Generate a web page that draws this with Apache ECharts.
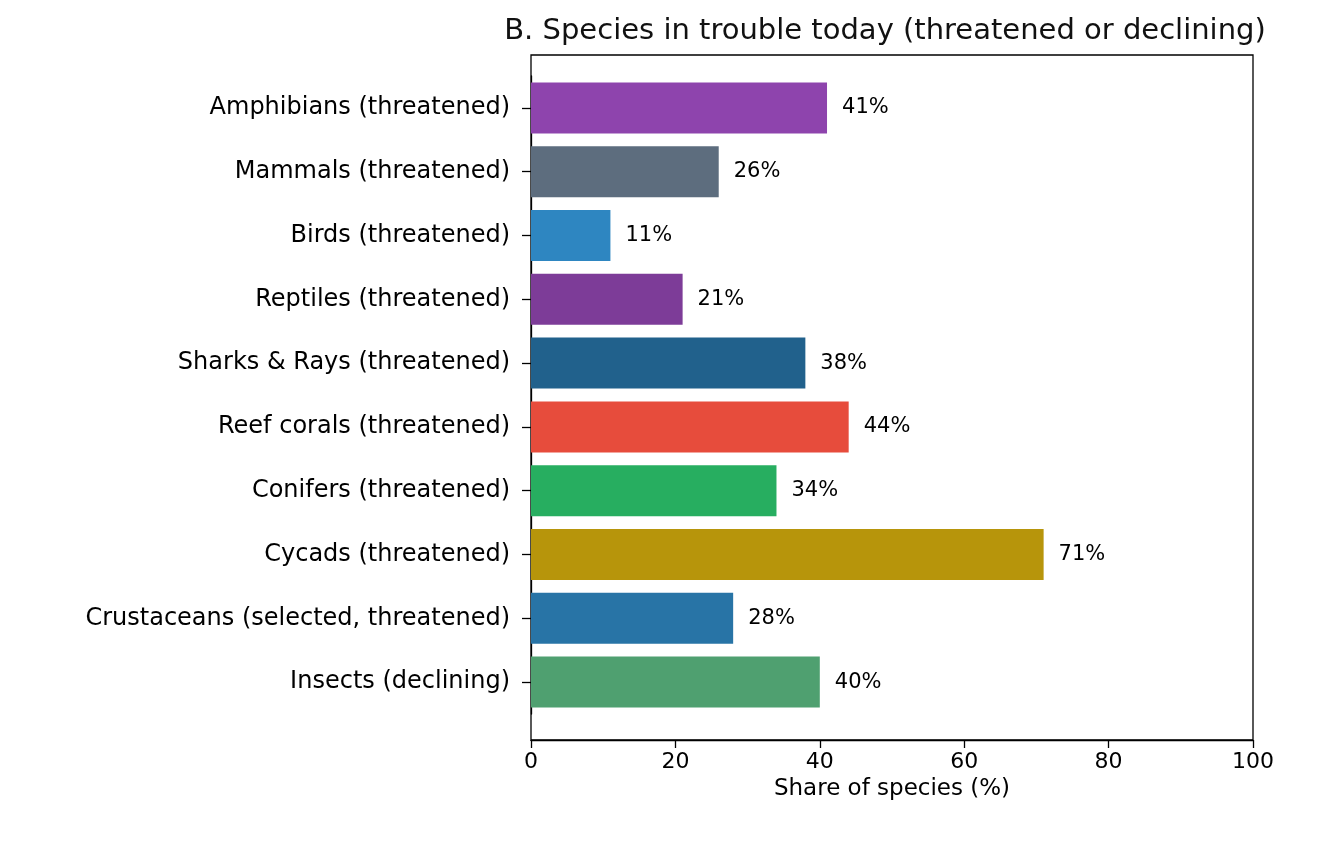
<!DOCTYPE html>
<html>
<head>
<meta charset="utf-8">
<script src="https://cdn.jsdelivr.net/npm/echarts@6/dist/echarts.min.js"></script>
<style>
  html, body { margin: 0; padding: 0; background: #fff; }
  #chart { width: 1339px; height: 849px; }
</style>
</head>
<body>
<div id="chart"></div>
<script>
// categories top to bottom
const categories = [
  'Amphibians (threatened)',
  'Mammals (threatened)',
  'Birds (threatened)',
  'Reptiles (threatened)',
  'Sharks & Rays (threatened)',
  'Reef corals (threatened)',
  'Conifers (threatened)',
  'Cycads (threatened)',
  'Crustaceans (selected, threatened)',
  'Insects (declining)'
];
const shares = [41, 26, 11, 21, 38, 44, 34, 71, 28, 40];
const barColors = ['#8E44AD', '#5D6D7E', '#2E86C1', '#7D3C98', '#21618C',
  '#E74C3C', '#27AE60', '#B7950B', '#2874A6', '#4FA070'];
const xTicks = [0, 20, 40, 60, 80, 100];

const font = 'DejaVu Sans';
let chart = echarts.init(document.getElementById('chart'), null, { renderer: 'canvas' });

let option = {
  animation: false,
  backgroundColor: '#fff',
  textStyle: { fontFamily: font, color: '#000' },
  title: {
    text: 'B. Species in trouble today (threatened or declining)',
    left: 880,
    top: 12,
    textAlign: 'center',
    textStyle: { fontFamily: font, fontSize: 29, fontWeight: 'normal', color: '#111' }
  },
  grid: [
    // frame / x axis
    { left: 531, right: 86, top: 55, bottom: 109, show: true, borderColor: '#000', borderWidth: 1.3, backgroundColor: 'transparent' },
    // bars
    { left: 531, right: 86, top: 76, bottom: 135 }
  ],
  xAxis: [
    {
      gridIndex: 0, type: 'value', min: xTicks[0], max: xTicks[xTicks.length - 1], interval: 20,
      axisLine: { show: true, lineStyle: { color: '#000', width: 1.3 } },
      axisTick: { show: true, length: 8, lineStyle: { color: '#000', width: 1.3 } },
      axisLabel: { color: '#000', fontSize: 22, margin: 11, fontFamily: font },
      splitLine: { show: false },
      name: 'Share of species (%)',
      nameLocation: 'middle',
      nameGap: 38,
      nameTextStyle: { color: '#000', fontSize: 23, fontFamily: font }
    },
    { gridIndex: 1, type: 'value', min: 0, max: 100, show: false }
  ],
  yAxis: [
    { gridIndex: 0, type: 'value', min: 0, max: 1, show: false },
    {
      gridIndex: 1, type: 'category', inverse: true, data: categories,
      axisLine: { show: true, lineStyle: { color: '#000', width: 1.3 } },
      axisTick: { show: true, alignWithLabel: true, length: 9, lineStyle: { color: '#000', width: 1.3 } },
      axisLabel: { color: '#000', fontSize: 24, margin: 21, fontFamily: font },
      splitLine: { show: false }
    }
  ],
  series: [{
    type: 'bar',
    xAxisIndex: 1,
    yAxisIndex: 1,
    barWidth: '80%',
    data: shares.map((v, i) => ({ value: v, itemStyle: { color: barColors[i] } })),
    label: {
      show: true,
      position: 'right',
      distance: 15,
      formatter: '{c}%',
      color: '#000',
      fontSize: 21,
      fontFamily: font
    }
  }]
};
chart.setOption(option);
</script>
</body>
</html>
